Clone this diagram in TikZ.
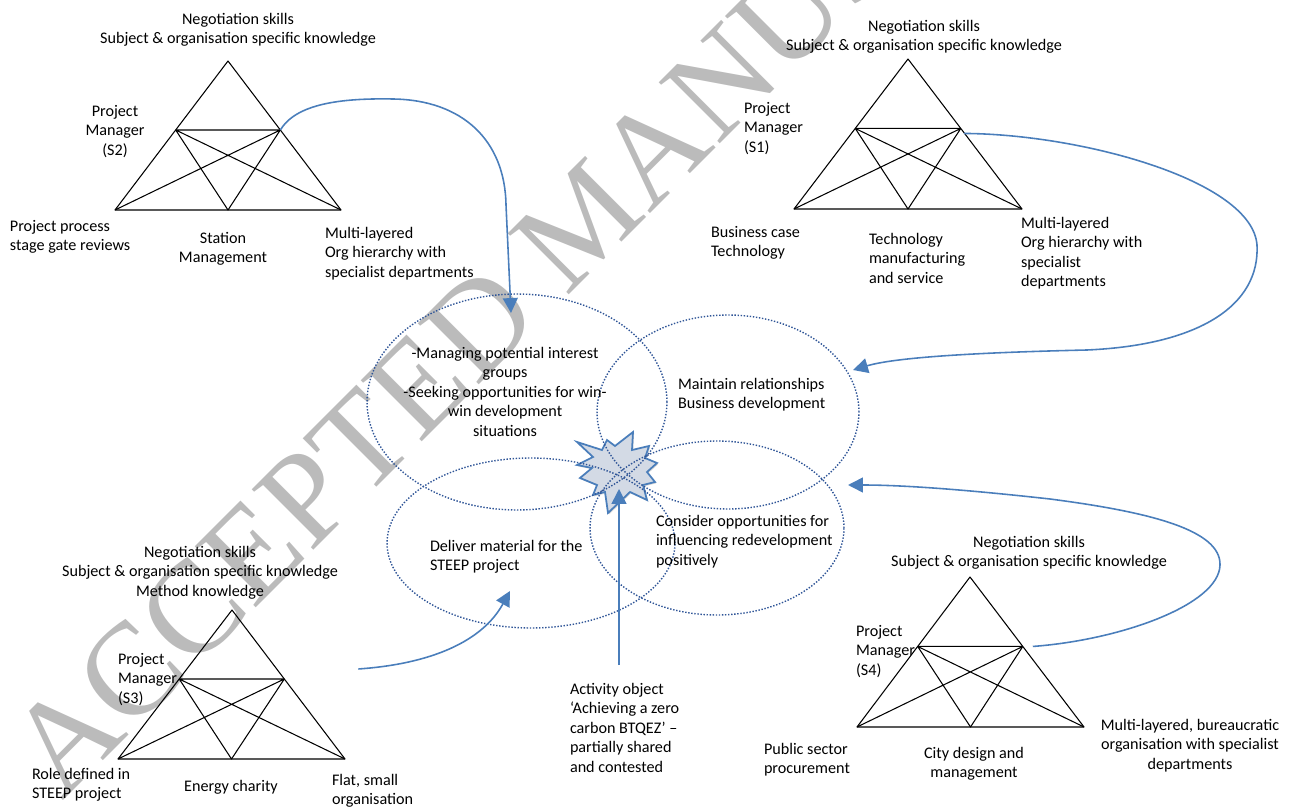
\documentclass[tikz,border=0pt]{standalone}
\usepackage{fontspec}
\setmainfont{Carlito}
\newfontfamily\stampfont{Liberation Serif}
\usetikzlibrary{arrows.meta,calc,shapes.geometric,shadows}

\definecolor{flowblue}{HTML}{4A7EBB}
\definecolor{zoneblue}{HTML}{2F5597}
\definecolor{burstfill}{HTML}{D3DAE5}
\definecolor{stampgray}{HTML}{BBBBBB}

% one activity system: apex, base corners, and the inner web of lines
\newcommand\activitysystem[4]{%
  \coordinate (#1a) at #2;
  \coordinate (#1l) at #3;
  \coordinate (#1r) at #4;
  \coordinate (#1m) at ($(#1l)!0.5!(#1r)$);
  \coordinate (#1p) at ($(#1a)!0.463!(#1l)$);
  \coordinate (#1q) at ($(#1a)!0.463!(#1r)$);
  \draw[tri] (#1a) -- (#1l) -- (#1r) -- cycle;
  \draw[tri] (#1p) -- (#1q) (#1p) -- (#1m) -- (#1q) (#1p) -- (#1r) (#1q) -- (#1l);
}

\begin{document}
\begin{tikzpicture}[x=0.02cm, y=-0.02cm,
  txt/.style={font=\fontsize{9.2}{11.1}\selectfont, inner sep=0pt, outer sep=0pt,
              yshift=-0.1cm, execute at begin node=\strut},
  ctr/.style={txt, align=center, anchor=north},
  lft/.style={txt, align=left, anchor=north west},
  tri/.style={black, line width=0.6pt, line join=round},
  flow/.style={flowblue, line width=0.9pt, -{Triangle[length=8.5pt, width=8.5pt]}},
  zone/.style={ellipse, draw=zoneblue, line width=0.8pt, dash pattern=on 0.8pt off 0.95pt,
               inner sep=0pt},
  stamp/.style={text=stampgray, font=\stampfont\fontsize{75}{80}\selectfont, inner sep=0pt}
]
\useasboundingbox (0,0) rectangle (1291,807);

% watermark
\begin{scope}
  \clip (0,0) rectangle (1291,807);
  \node[stamp, rotate=45, anchor=base west] (stamp) at (62,802) {ACCEPTED MANUSCRIPT};
\end{scope}

% the four activity systems
\activitysystem{s2}{(228,61)}{(115,210)}{(341,210)}
\activitysystem{s1}{(908,59)}{(794,209)}{(1022,209)}
\activitysystem{s3}{(232,610)}{(118,759)}{(345,759)}
\activitysystem{s4}{(970,577)}{(857,727)}{(1084,727)}

% labels: system S2
\node[ctr] (s2top) at (238,8) {Negotiation skills\\Subject \& organisation specific knowledge};
\node[ctr] (s2subj) at (115,100) {Project\\Manager\\(S2)};
\node[lft] (s2rules) at (10,215) {Project process\\stage gate reviews};
\node[ctr] (s2comm) at (223,227) {Station\\Management};
\node[lft] (s2div) at (325,222) {Multi-layered\\Org hierarchy with\\specialist departments};

% labels: system S1
\node[ctr] (s1top) at (924,15) {Negotiation skills\\Subject \& organisation specific knowledge};
\node[lft] (s1subj) at (744,97) {Project\\Manager\\(S1)};
\node[lft] (s1rules) at (711,221) {Business case\\Technology};
\node[lft] (s1comm) at (869,228) {Technology\\manufacturing\\and service};
\node[lft] (s1div) at (1021,212) {Multi-layered\\Org hierarchy with\\specialist\\departments};

% labels: system S3
\node[ctr] (s3top) at (200,541) {Negotiation skills\\Subject \& organisation specific knowledge\\Method knowledge};
\node[lft] (s3subj) at (118,648) {Project\\Manager\\(S3)};
\node[lft] (s3rules) at (32,763) {Role defined in\\STEEP project};
\node[ctr] (s3comm) at (231,773) {Energy charity};
\node[lft] (s3div) at (332,769) {Flat, small\\organisation};

% labels: system S4
\node[ctr] (s4top) at (1029,531) {Negotiation skills\\Subject \& organisation specific knowledge};
\node[lft] (s4subj) at (856,620) {Project\\Manager\\(S4)};
\node[lft] (s4rules) at (764,738) {Public sector\\procurement};
\node[ctr] (s4comm) at (974,742) {City design and\\management};
\node[ctr] (s4div) at (1190,714) {Multi-layered, bureaucratic\\organisation with specialist\\departments};

% shared object: starburst
\filldraw[fill=burstfill, draw=flowblue, line width=1pt, line join=miter,
          drop shadow={shadow xshift=0.6pt, shadow yshift=-0.8pt, opacity=0.3}]
  (577,442) -- (602,450) -- (607,440) -- (615,446) -- (633,432) -- (632,450)
  -- (649,446) -- (645,458) -- (657,463) -- (647,472) -- (655,482) -- (643,485)
  -- (647,500) -- (630,492) -- (608,513) -- (605,492) -- (593,495) -- (597,485)
  -- (580,478) -- (592,468) -- (577,465) -- (593,457) -- cycle;
\coordinate (burst) at (617,472);

% object zones
\node[zone, minimum width=6cm, minimum height=4.32cm] (zone2) at (517,402) {};
\node[zone, minimum width=5.24cm, minimum height=3.88cm] (zone1) at (728,412) {};
\node[zone, minimum width=5.76cm, minimum height=3.4cm] (zone3) at (531,543) {};
\node[zone, minimum width=5.08cm, minimum height=3.48cm] (zone4) at (717,528) {};

\node[ctr] (obj2) at (505,342) {-Managing potential interest\\groups\\-Seeking opportunities for win-\\win development\\situations};
\node[lft] (obj1) at (678,373) {Maintain relationships\\Business development};
\node[lft] (obj4) at (656,510) {Consider opportunities for\\influencing redevelopment\\positively};
\node[lft] (obj3) at (430,535) {Deliver material for the\\STEEP project};

\node[lft] (actobj) at (570,678) {Activity object\\`Achieving a zero\\carbon BTQEZ' --\\partially shared\\and contested};

% connectors
\coordinate (tip2) at (511,313);
\coordinate (tip1) at (853,370);
\coordinate (tip4) at (848,485);
\coordinate (tip3) at (510,591);
\coordinate (tip0) at (619,489);
\coordinate (actfoot) at (619,665);

\draw[flow] (s2q) .. controls (296,104) and (340,98) .. (393,99)
  .. controls (462,100) and (505,140) .. (506,205) -- (tip2);
\draw[flow] ($(s1q)+(3,5)$) .. controls (1080,134) and (1252,180) .. (1257,245)
  .. controls (1260,305) and (1200,345) .. (1087,350)
  .. controls (1000,352) and (900,356) .. (tip1);
\draw[flow] ($(s4q)+(10,0)$) .. controls (1120,640) and (1219,605) .. (1220,565)
  .. controls (1221,530) and (1150,512) .. (1050,499)
  .. controls (960,489) and (900,485) .. (tip4);
\draw[flow] ($(s3q)+(74,-10)$) .. controls (430,664) and (482,642) .. (tip3);
\draw[flow] (actfoot) -- (tip0);

\end{tikzpicture}
\end{document}
